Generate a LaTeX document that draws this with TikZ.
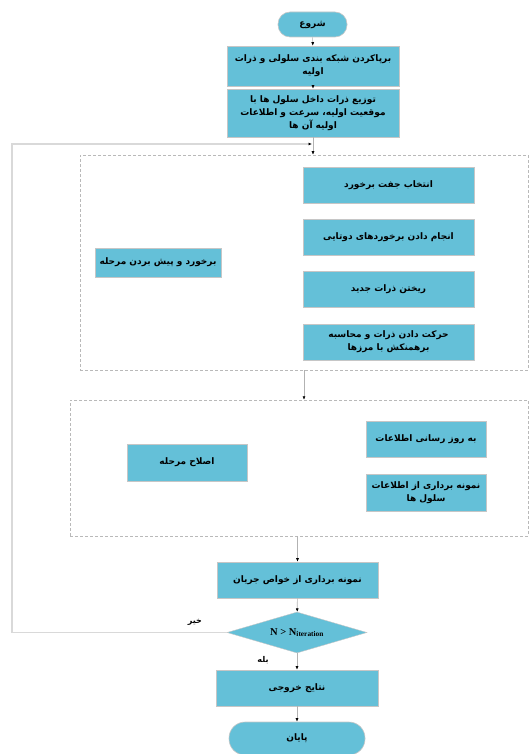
\documentclass[tikz,border=0pt]{standalone}
\usepackage{fontspec}
\newfontfamily\fafont[Script=Arabic]{DejaVu Sans}
\newfontfamily\latinfont{Liberation Serif}
\TeXXeTstate=1
\usetikzlibrary{arrows.meta,shapes.geometric,positioning}
\newcommand{\fa}[1]{\beginR #1\endR}
\definecolor{boxblue}{RGB}{100,192,216}

\begin{document}
\begin{tikzpicture}[x=1pt,y=-1pt,>=Latex,
    box/.style={draw=gray!45,line width=0.6pt,fill=boxblue,align=center,inner sep=2pt,
      font=\fafont\bfseries\fontsize{9}{13}\selectfont},
    term/.style={box,rounded corners=#1},
    phase/.style={draw=gray!55,densely dashed,line width=0.5pt},
    flow/.style={draw=gray!60,line width=0.6pt,-{Latex[black,length=3.5pt,width=3pt]}},
    loop/.style={draw=gray!30,line width=1.2pt},
    lbl/.style={font=\fafont\bfseries\fontsize{8}{10}\selectfont,inner sep=1pt}]
  \useasboundingbox (0,0) rectangle (530,754);

  % main column
  \node[term=12pt,minimum width=69pt,minimum height=25pt] (start) at (312.5,24.5) {\fa{شروع}};
  \node[box,minimum width=172pt,minimum height=40pt] (mesh) at (313,66)
    {\fa{برپاکردن شبکه بندی سلولی و ذرات}\\\fa{اولیه}};
  \node[box,minimum width=172pt,minimum height=48pt] (init) at (313,113)
    {\fa{توزیع ذرات داخل سلول ها با}\\\fa{موقعیت اولیه، سرعت و اطلاعات}\\\fa{اولیه آن ها}};

  % collision and move phase
  \node[phase,minimum width=448pt,minimum height=215pt] (ph1) at (304,262.5) {};
  \node[box,minimum width=126pt,minimum height=29pt] (move) at (158,262.5) {\fa{برخورد و پیش بردن مرحله}};
  \foreach \i/\y/\txt in {1/185.5/{\fa{انتخاب جفت برخورد}},
                          2/237/{\fa{انجام دادن برخوردهای دوتایی}},
                          3/289.5/{\fa{ریختن ذرات جدید}},
                          4/342/{\fa{حرکت دادن ذرات و محاسبه}\\\fa{برهمنکش با مرزها}}}{
    \node[box,minimum width=171pt,minimum height=36pt] (c\i) at (388.5,\y) {\txt};
  }

  % correction phase
  \node[phase,minimum width=458pt,minimum height=136pt] (ph2) at (299,468) {};
  \node[box,minimum width=120pt,minimum height=37pt] (fix) at (187,462.5) {\fa{اصلاح مرحله}};
  \node[box,minimum width=120pt,minimum height=36pt] (upd) at (426,439) {\fa{به روز رسانی اطلاعات}};
  \node[box,minimum width=120pt,minimum height=37pt] (samp) at (426,492.5)
    {\fa{نمونه برداری از اطلاعات}\\\fa{سلول ها}};

  % sampling, test and output
  \node[box,minimum width=161pt,minimum height=36pt] (prop) at (297.5,580) {\fa{نمونه برداری از خواص جریان}};
  \node[diamond,draw=gray!45,fill=boxblue,inner sep=0pt,aspect=3.4,
        minimum width=140pt,minimum height=41pt] (test) at (297,632.5)
    {\latinfont\bfseries\fontsize{10.5}{12}\selectfont N > N\textsubscript{iteration}};
  \node[box,minimum width=162pt,minimum height=36pt] (out) at (297,688) {\fa{نتایج خروجی}};
  \node[term=16pt,minimum width=136pt,minimum height=33pt] (stop) at (297,738.5) {\fa{پایان}};

  \node[lbl] (lblno) at (195,622) {\fa{خیر}};
  \node[lbl] (lblyes) at (263,660) {\fa{بله}};

  % connectors
  \draw[flow] (start) -- (mesh);
  \draw[flow] (mesh) -- (init);
  \draw[flow] (init.south) -- (init.south |- ph1.north);
  \draw[flow] (ph1.south) -- (ph1.south |- ph2.north);
  \draw[flow] (prop.north |- ph2.south) -- (prop.north);
  \draw[flow] (prop) -- (test);
  \draw[flow] (test) -- (out);
  \draw[flow] (out) -- (stop);

  \coordinate (join) at ([xshift=-1pt]init.south |- 0,144);
  \draw[loop,-{Latex[black,length=3.5pt,width=3pt]}] (test.west) -- (12,632.5) -- (12,144) -- (join);
\end{tikzpicture}
\end{document}
